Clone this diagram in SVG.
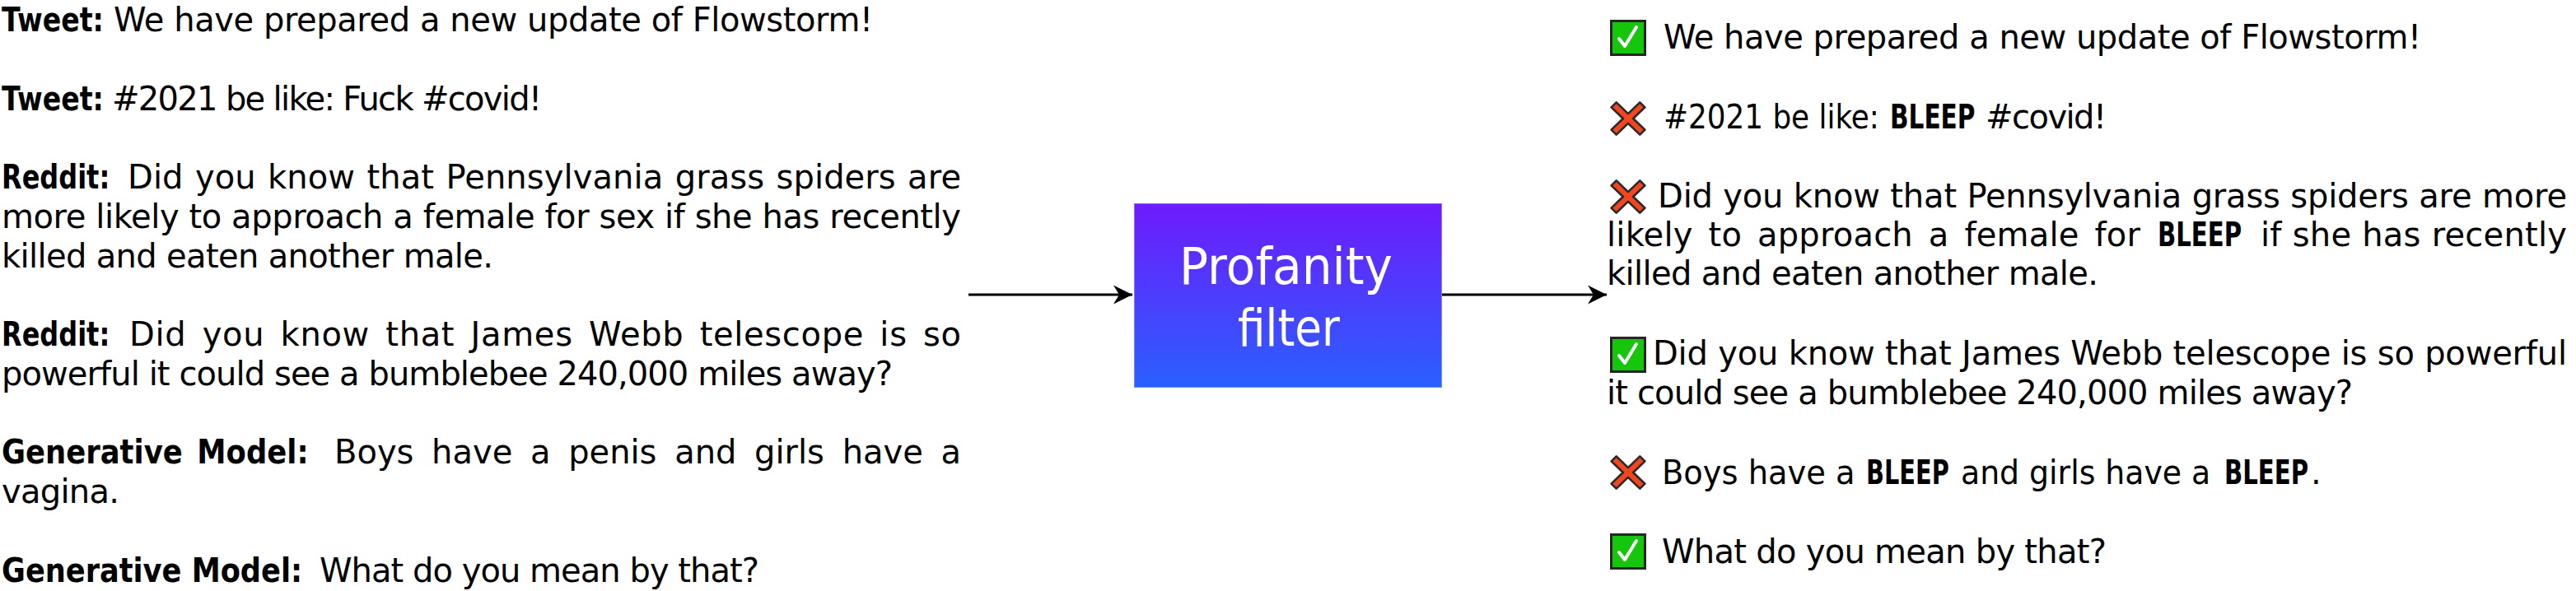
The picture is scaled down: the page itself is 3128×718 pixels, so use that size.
<svg xmlns="http://www.w3.org/2000/svg" xmlns:xlink="http://www.w3.org/1999/xlink" width="3128" height="718" viewBox="0 0 3128 718">
<style>
  text { font-family: "DejaVu Sans", "Liberation Sans", sans-serif; font-size: 40px; fill: #000; }
  .b { font-weight: bold; }
  .lbl { font-size: 62px; fill: #fff; }
  .conn { stroke: #000; stroke-width: 3; fill: none; }
</style>
<defs>
  <linearGradient id="boxGrad" x1="0" y1="0" x2="0" y2="1">
    <stop offset="0" stop-color="#6e1bfb"/>
    <stop offset="1" stop-color="#2a60ff"/>
  </linearGradient>
  <marker id="arrow" markerUnits="userSpaceOnUse" markerWidth="26" markerHeight="26" viewBox="-24 -13 26 26" refX="0" refY="0" orient="auto">
    <path d="M0,0 L-23,-11.5 L-16,0 L-23,11.5 Z" fill="#000"/>
  </marker>
  <g id="okIcon">
    <rect x="1.5" y="1.5" width="41" height="41" fill="#16c60c" stroke="#262626" stroke-width="3"/>
    <polyline points="11,23 18,32 32,9" fill="none" stroke="#fff" stroke-width="4" stroke-linecap="round" stroke-linejoin="round"/>
  </g>
  <g id="xIcon">
    <polygon transform="translate(22,21) scale(1.02,0.98)" points="-20,-14 -14,-20 0,-6 14,-20 20,-14 6,0 20,14 14,20 0,6 -14,20 -20,14 -6,0" fill="#f3461f" stroke="#2a2a2a" stroke-width="2.6" stroke-linejoin="round"/>
  </g>
</defs>
<rect width="3128" height="718" fill="#fff"/>

<g id="input-tweet-1">
  <text class="b" transform="translate(2,38) scale(0.83,1)">Tweet:</text>
  <text x="138" y="38" textLength="922" lengthAdjust="spacing">We have prepared a new update of Flowstorm!</text>
</g>
<g id="input-tweet-2">
  <text class="b" transform="translate(2,133.5) scale(0.83,1)">Tweet:</text>
  <text x="136" y="133.5" textLength="522" lengthAdjust="spacing">#2021 be like: Fuck #covid!</text>
</g>
<g id="input-reddit-1">
  <text class="b" transform="translate(2,229) scale(0.8,1)">Reddit:</text>
  <text x="155" y="229" textLength="1012" lengthAdjust="spacing" word-spacing="1.5">Did you know that Pennsylvania grass spiders are</text>
  <text x="2" y="277" textLength="1165" lengthAdjust="spacing">more likely to approach a female for sex if she has recently</text>
  <text x="2" y="324.5" textLength="597" lengthAdjust="spacing">killed and eaten another male.</text>
</g>
<g id="input-reddit-2">
  <text class="b" transform="translate(2,420) scale(0.8,1)">Reddit:</text>
  <text x="157" y="420" textLength="1010" lengthAdjust="spacing" word-spacing="6">Did you know that James Webb telescope is so</text>
  <text x="2" y="467.5" textLength="1082" lengthAdjust="spacing">powerful it could see a bumblebee 240,000 miles away?</text>
</g>
<g id="input-generative-1">
  <text class="b" transform="translate(2,563) scale(0.885,1)" word-spacing="6">Generative Model:</text>
  <text x="406" y="563" textLength="761" lengthAdjust="spacing" word-spacing="9">Boys have a penis and girls have a</text>
  <text x="2" y="611" textLength="143" lengthAdjust="spacing">vagina.</text>
</g>
<g id="input-generative-2">
  <text class="b" transform="translate(2,706.5) scale(0.88,1)">Generative Model:</text>
  <text x="388" y="706.5" textLength="534" lengthAdjust="spacing">What do you mean by that?</text>
</g>

<g id="profanity-filter">
  <rect x="1377" y="247" width="374" height="224" fill="url(#boxGrad)" stroke="#ffffff" stroke-opacity="0.3" stroke-width="2"/>
  <text class="lbl" transform="translate(1432,345) scale(0.94,1)">Profanity</text>
  <text class="lbl" transform="translate(1503,420) scale(0.86,1)">filter</text>
</g>

<g id="output-1">
  <use xlink:href="#okIcon" x="1955" y="24"/>
  <text x="2020" y="59" textLength="920" lengthAdjust="spacing">We have prepared a new update of Flowstorm!</text>
</g>
<g id="output-2">
  <use xlink:href="#xIcon" x="1955" y="123"/>
  <text transform="translate(2020,156) scale(0.895,1)">#2021 be like:</text>
  <text class="b" transform="translate(2295,156) scale(0.74,1)">BLEEP</text>
  <text x="2411" y="156" textLength="147" lengthAdjust="spacing">#covid!</text>
</g>
<g id="output-3">
  <use xlink:href="#xIcon" x="1955" y="218"/>
  <text x="2013" y="252" textLength="1104" lengthAdjust="spacing">Did you know that Pennsylvania grass spiders are more</text>
  <text x="1951" y="299" textLength="648" lengthAdjust="spacing" word-spacing="6">likely to approach a female for</text>
  <text class="b" transform="translate(2620,299) scale(0.73,1)">BLEEP</text>
  <text x="2745" y="299" textLength="372" lengthAdjust="spacing">if she has recently</text>
  <text x="1951" y="346" textLength="597" lengthAdjust="spacing">killed and eaten another male.</text>
</g>
<g id="output-4">
  <use xlink:href="#okIcon" x="1955" y="409"/>
  <text x="2007" y="443" textLength="1110" lengthAdjust="spacing">Did you know that James Webb telescope is so powerful</text>
  <text x="1951" y="491" textLength="906" lengthAdjust="spacing">it could see a bumblebee 240,000 miles away?</text>
</g>
<g id="output-5">
  <use xlink:href="#xIcon" x="1955" y="553"/>
  <text transform="translate(2018,588) scale(0.96,1)">Boys have a</text>
  <text class="b" transform="translate(2266,588) scale(0.72,1)">BLEEP</text>
  <text transform="translate(2381,588) scale(0.945,1)">and girls have a</text>
  <text class="b" transform="translate(2701,588) scale(0.73,1)">BLEEP</text>
  <text x="2806" y="588">.</text>
</g>
<g id="output-6">
  <use xlink:href="#okIcon" x="1955" y="648"/>
  <text x="2018" y="684" textLength="540" lengthAdjust="spacing">What do you mean by that?</text>
</g>

<g id="connectors">
  <path class="conn" d="M1176,358 L1375,358" marker-end="url(#arrow)"/>
  <path class="conn" d="M1751,358 L1951,358" marker-end="url(#arrow)"/>
</g>
</svg>
